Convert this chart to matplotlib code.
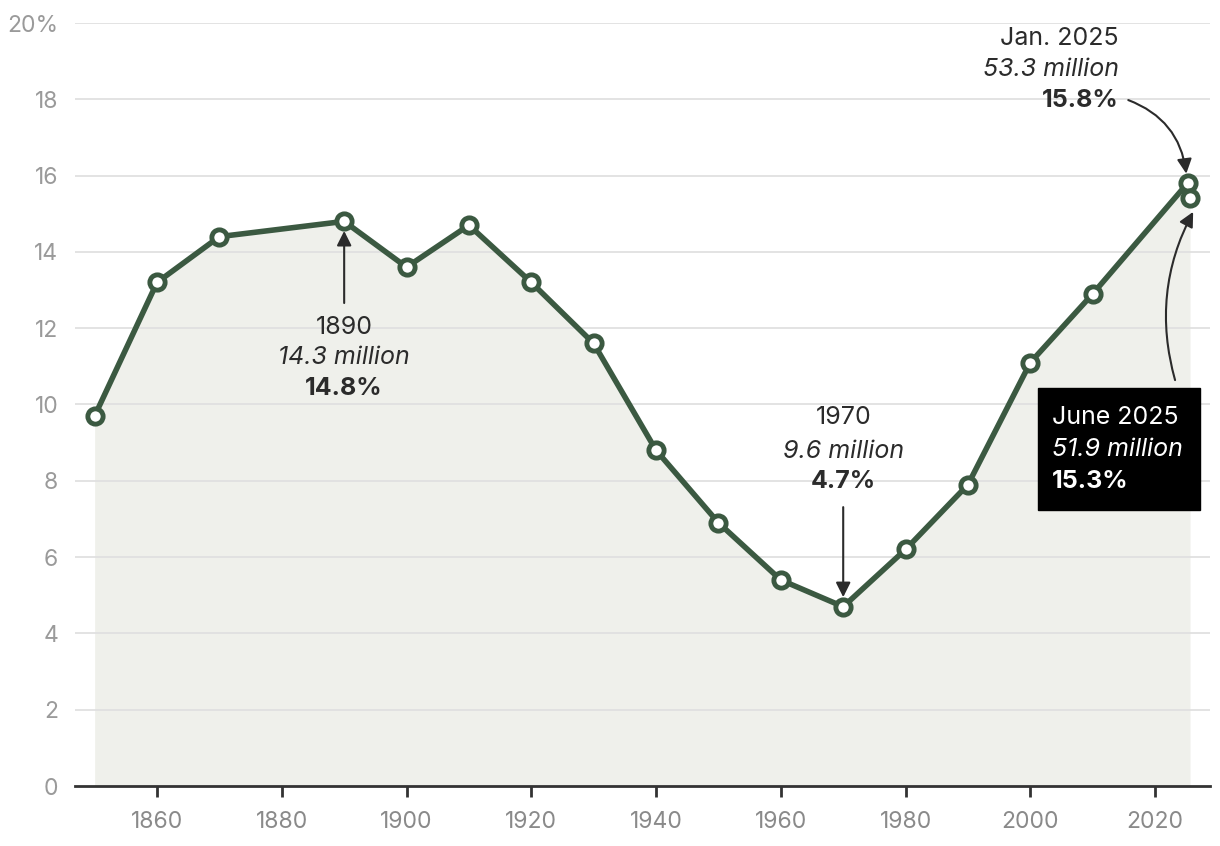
import numpy as np
import matplotlib.pyplot as plt
from matplotlib.patches import Rectangle

plt.rcParams['font.family'] = ['Inter', 'DejaVu Sans']

# foreign-born share of US population, %
years = [1850, 1860, 1870, 1890, 1900, 1910, 1920, 1930, 1940, 1950,
         1960, 1970, 1980, 1990, 2000, 2010, 2025.2, 2025.6]
share = [9.7, 13.2, 14.4, 14.8, 13.6, 14.7, 13.2, 11.6, 8.8, 6.9,
         5.4, 4.7, 6.2, 7.9, 11.1, 12.9, 15.8, 15.4]

yticks = [0, 2, 4, 6, 8, 10, 12, 14, 16, 18, 20]
ytick_labels = ['0', '2', '4', '6', '8', '10', '12', '14', '16', '18', '20%']
xticks = [1860, 1880, 1900, 1920, 1940, 1960, 1980, 2000, 2020]

green = '#3b5941'
fill = '#eff0eb'
txt = '#2b2b2b'

fig = plt.figure(figsize=(12.2, 8.46), dpi=100)
ax = fig.add_axes([75/1220, 1-786/846, 1135/1220, (786-23)/846])

ax.fill_between(years, share, 0, color=fill, zorder=1, lw=0)
for t in yticks[1:]:
    ax.axhline(t, color='#e0e0e0', lw=1.3, zorder=2)
ax.plot(years, share, color=green, lw=4, zorder=4,
        marker='o', ms=11, mfc='white', mec=green, mew=3.5)

ax.set_xlim(1846.85, 2028.8)
ax.set_ylim(0, 20)
ax.set_yticks(yticks)
ax.set_yticklabels(ytick_labels)
ax.set_xticks(xticks)
for s in ['top', 'right', 'left']:
    ax.spines[s].set_visible(False)
ax.spines['bottom'].set_color('#333333')
ax.spines['bottom'].set_linewidth(2)
ax.tick_params(axis='y', length=0, labelsize=16.5, labelcolor='#9a9a9a', pad=12)
ax.tick_params(axis='x', length=8, width=2, color='#333333', labelsize=16.5,
               labelcolor='#8a8a8a', pad=10)

fs = 18

def label(x, ys, lines, ha='center', color=txt):
    styles = [dict(), dict(style='italic'), dict(weight='bold')]
    for y, s, st in zip(ys, lines, styles):
        ax.text(x, y, s, ha=ha, va='center', fontsize=fs, color=color,
                zorder=6, clip_on=False, **st)

arrow = dict(arrowstyle='-|>', color=txt, lw=1.5, mutation_scale=22,
             shrinkA=0, shrinkB=0)

# 1890
label(1890, [12.03, 11.22, 10.41], ['1890', '14.3 million', '14.8%'])
ax.annotate('', xy=(1890, 14.55), xytext=(1890, 12.66),
            arrowprops=arrow, zorder=3)

# 1970
label(1970, [9.65, 8.78, 7.97], ['1970', '9.6 million', '4.7%'])
ax.annotate('', xy=(1970, 4.95), xytext=(1970, 7.31),
            arrowprops=arrow, zorder=3)

# Jan. 2025
label(2014.2, [19.6, 18.77, 17.98], ['Jan. 2025', '53.3 million', '15.8%'], ha='right')
ax.annotate('', xy=(2025.0, 16.05), xytext=(2015.7, 17.98),
            arrowprops=dict(arrow, connectionstyle='arc3,rad=-0.3'), zorder=3)

# June 2025
ax.add_patch(Rectangle((2001.3, 7.23), 25.9, 3.2, color='black', zorder=5,
                       clip_on=False))
label(2003.5, [9.65, 8.81, 7.99], ['June 2025', '51.9 million', '15.3%'],
      ha='left', color='white')
ax.annotate('', xy=(2026.1, 15.05), xytext=(2023.2, 10.64),
            arrowprops=dict(arrow, connectionstyle='arc3,rad=-0.2'), zorder=3)

fig.savefig('out.png', dpi=100)
